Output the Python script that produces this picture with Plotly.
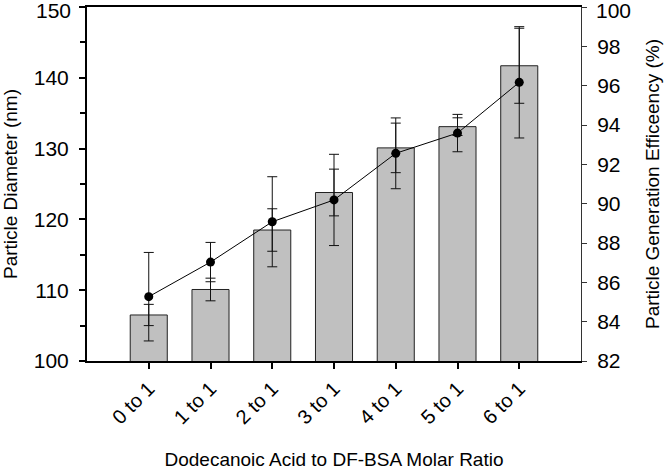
import plotly.graph_objects as go

categories = ["0 to 1", "1 to 1", "2 to 1", "3 to 1", "4 to 1", "5 to 1", "6 to 1"]
diameter_nm = [106.5, 110.1, 118.5, 123.8, 130.1, 133.1, 141.7]
diameter_err = [1.5, 1.6, 3.0, 3.3, 3.5, 1.25, 5.3]
efficiency_pct = [85.27, 87.03, 89.08, 90.19, 92.56, 93.59, 96.17]
efficiency_err = [2.25, 1.0, 2.29, 2.32, 1.8, 0.95, 2.83]

left_ticks = [100, 110, 120, 130, 140, 150]
right_ticks = [82, 84, 86, 88, 90, 92, 94, 96, 98, 100]

xpos = list(range(len(categories)))
FONT = "Liberation Sans, Arial, sans-serif"
TICK_SIZE = 21

fig = go.Figure()
fig.add_trace(go.Bar(
    x=xpos, y=diameter_nm, base=0, width=0.6,
    marker=dict(color="#c0c0c0", line=dict(color="#222222", width=1)),
    error_y=dict(type="data", array=diameter_err, color="#111111", thickness=1, width=5),
    yaxis="y", showlegend=False,
))
fig.add_trace(go.Scatter(
    x=xpos, y=efficiency_pct, mode="lines+markers",
    line=dict(color="black", width=1),
    marker=dict(color="black", size=9),
    error_y=dict(type="data", array=efficiency_err, color="#111111", thickness=1, width=5),
    yaxis="y2", showlegend=False,
))

fig.update_layout(
    width=670, height=470,
    margin=dict(l=87, r=89, t=7, b=109),
    paper_bgcolor="white", plot_bgcolor="white",
    font=dict(family=FONT, size=19, color="black"),
    xaxis=dict(
        range=[-1, 7], tickvals=xpos, ticktext=categories, tickangle=-45,
        ticks="outside", ticklen=6, tickwidth=2, tickcolor="black",
        showline=True, linewidth=2, linecolor="black", mirror=True,
        showgrid=False, zeroline=False, automargin=False,
        title=dict(text="Dodecanoic Acid to DF-BSA Molar Ratio", standoff=27,
                   font=dict(size=19)),
        tickfont=dict(size=20),
    ),
    yaxis=dict(
        range=[100, 150.0001], tickvals=left_ticks,
        ticks="outside", ticklen=6, tickwidth=2, tickcolor="black",
        minor=dict(tickvals=[105, 115, 125, 135, 145], ticks="outside", ticklen=5, tickwidth=2, tickcolor="black"),
        showline=True, linewidth=2, linecolor="black",
        showgrid=False, zeroline=False, automargin=False,
        title=dict(text="Particle Diameter (nm)", standoff=12, font=dict(size=19)),
        tickfont=dict(size=TICK_SIZE), ticklabelstandoff=6,
    ),
    yaxis2=dict(
        range=[82, 100.0001], tickvals=right_ticks, overlaying="y", side="right",
        ticks="outside", ticklen=5, tickwidth=1, tickcolor="#333333",
        showline=True, linewidth=1, linecolor="#333333",
        showgrid=False, zeroline=False, automargin=False,
        title=dict(text="Particle Generation Efficeency (%)", standoff=25, font=dict(size=19)),
        tickfont=dict(size=TICK_SIZE), ticklabelstandoff=6,
    ),
)

# top tick labels that plotly hides at the figure edge
fig.add_annotation(text=str(left_ticks[-1]), xref="paper", yref="y", x=0, y=left_ticks[-1],
                   xanchor="right", yanchor="middle", xshift=-14, yshift=-3, showarrow=False,
                   font=dict(size=TICK_SIZE, family=FONT, color="black"))
fig.add_annotation(text=str(right_ticks[-1]), xref="paper", yref="y2", x=1, y=right_ticks[-1],
                   xanchor="left", yanchor="middle", xshift=13, yshift=-3, showarrow=False,
                   font=dict(size=TICK_SIZE, family=FONT, color="black"))

fig.write_html("out.html", config={"displayModeBar": False},
               post_script="document.body.style.margin='0';document.body.style.padding='0';")
